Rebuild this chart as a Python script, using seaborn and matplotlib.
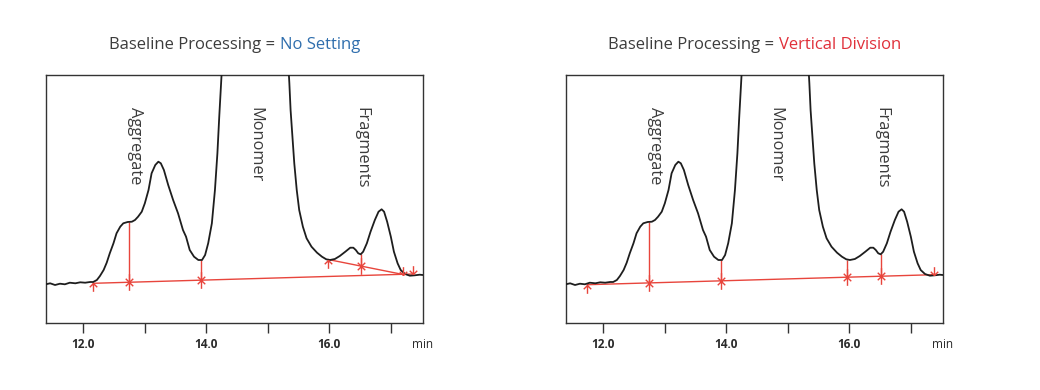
import numpy as np
import pandas as pd
import matplotlib
matplotlib.use("Agg")
import matplotlib.pyplot as plt
import seaborn as sns
from matplotlib.path import Path

# ---------------- data ----------------
time_min = [11.39, 11.46, 11.54, 11.62, 11.70, 11.78, 11.87, 11.95, 12.03, 12.11,
            12.16, 12.22, 12.27, 12.33, 12.38, 12.43, 12.49, 12.54, 12.60, 12.65,
            12.72, 12.79, 12.84, 12.89, 12.95, 13.00, 13.06, 13.11, 13.17, 13.22,
            13.26, 13.31, 13.38, 13.46, 13.54, 13.62, 13.67, 13.73, 13.80, 13.87,
            13.93, 13.98, 14.03, 14.09, 14.14, 14.18, 14.21, 14.24, 14.27, 14.80,
            15.32, 15.35, 15.37, 15.40, 15.43, 15.47, 15.51, 15.57, 15.63, 15.71,
            15.80, 15.88, 15.95, 16.01, 16.09, 16.17, 16.26, 16.34, 16.39, 16.43,
            16.47, 16.51, 16.55, 16.61, 16.67, 16.74, 16.80, 16.85, 16.89, 16.94,
            17.00, 17.05, 17.11, 17.16, 17.23, 17.31, 17.39, 17.47, 17.52]
signal = [38.7, 39.7, 38.0, 39.3, 38.7, 40.3, 39.7, 40.7, 40.3, 41.0,
          41.0, 43.0, 47.0, 53.0, 60.3, 69.7, 79.7, 89.7, 96.3, 99.7,
          101.0, 101.3, 103.0, 106.3, 111.3, 119.7, 133.0, 149.7, 158.0, 161.3,
          159.7, 153.0, 138.0, 123.0, 109.7, 93.0, 86.3, 73.0, 66.3, 63.0,
          63.0, 68.0, 79.7, 99.7, 133.0, 169.7, 206.3, 239.7, 273.0, 900.0,
          273.0, 239.7, 213.0, 186.3, 159.7, 133.0, 113.0, 96.3, 84.7, 76.3,
          70.3, 66.3, 63.7, 63.0, 64.0, 67.0, 71.3, 75.3, 75.3, 73.0,
          69.7, 68.7, 71.3, 79.7, 91.3, 103.0, 111.3, 113.7, 111.3, 101.3,
          86.3, 71.3, 59.7, 53.0, 49.0, 47.3, 47.7, 48.3, 48.0]

peak_names = ["Aggregate", "Monomer", "Fragments"]
peak_label_time = [12.84, 14.80, 16.52]

tick_positions = [12, 13, 14, 15, 16, 17]
tick_labels = ["12.0", "", "14.0", "", "16.0", ""]
axis_unit = "min"

title_prefix = "Baseline Processing = "
panel_modes = ["No Setting", "Vertical Division"]

# Panel 1: No Setting
p1_base_t = [12.16, 17.36]
p1_base_s = [39.7, 49.0]
p1_skim_t = [15.98, 17.20]
p1_skim_s = [63.5, 48.5]
p1_drop_t = [12.75, 13.91, 16.51]
p1_drop_bottom = [40.8, 42.6, 57.0]
p1_drop_top = [101.2, 63.0, 68.7]
p1_mark_t = [12.16, 12.75, 13.91, 15.98, 16.51, 17.20, 17.36]
p1_mark_s = [39.7, 40.8, 42.6, 63.5, 57.0, 48.5, 49.0]
p1_mark_kind = ["start", "mid", "mid", "start", "mid", "end", "end"]

# Panel 2: Vertical Division
p2_base_t = [11.74, 17.37]
p2_base_s = [38.3, 48.3]
p2_drop_t = [12.75, 13.91, 15.96, 16.51]
p2_drop_bottom = [40.1, 42.2, 45.8, 46.8]
p2_drop_top = [101.2, 63.0, 63.5, 68.7]
p2_mark_t = [11.74, 12.75, 13.91, 15.96, 16.51, 17.37]
p2_mark_s = [38.3, 40.1, 42.2, 45.8, 46.8, 48.3]
p2_mark_kind = ["start", "mid", "mid", "mid", "mid", "end"]

# ---------------- style ----------------
sns.set_theme(style="white")
plt.rcParams["font.family"] = ["Open Sans", "DejaVu Sans"]

RED = "#e8453c"
BLUE = "#2f6ead"
TITLE_RED = "#e0303a"
GRAY = "#3c3c3c"
CURVE = "#1e1e1e"

d = 0.45
M_FULL = Path([(0, -1), (0, 1), (-d, -d), (d, d), (-d, d), (d, -d)],
              [Path.MOVETO, Path.LINETO, Path.MOVETO, Path.LINETO, Path.MOVETO, Path.LINETO])
M_START = Path([(0, 0), (0, -1), (0, 0), (-d, -d), (0, 0), (d, -d), (0, 1e-3), (0, 1)],
               [Path.MOVETO, Path.LINETO, Path.MOVETO, Path.LINETO, Path.MOVETO, Path.LINETO,
                Path.MOVETO, Path.MOVETO])
M_END = Path([(0, 0), (0, 1), (0, 0), (-d, d), (0, 0), (d, d), (0, -1e-3), (0, -1)],
             [Path.MOVETO, Path.LINETO, Path.MOVETO, Path.LINETO, Path.MOVETO, Path.LINETO,
              Path.MOVETO, Path.MOVETO])
MARKERS = {"start": M_START, "mid": M_FULL, "end": M_END}

curve_df = pd.DataFrame({"time": time_min, "signal": signal})

W, H = 1040, 390
fig = plt.figure(figsize=(W / 100, H / 100), dpi=100)
ax_w, ax_h = 377, 248
ax_bottom = H - 323
lefts = [46, 566]
axes = [fig.add_axes([l / W, ax_bottom / H, ax_w / W, ax_h / H]) for l in lefts]

XLIM = (11.393, 17.523)
YLIM = (0, 248)

panels = [
    dict(base_t=p1_base_t, base_s=p1_base_s, skim_t=p1_skim_t, skim_s=p1_skim_s,
         drop_t=p1_drop_t, drop_b=p1_drop_bottom, drop_top=p1_drop_top,
         mark_t=p1_mark_t, mark_s=p1_mark_s, mark_k=p1_mark_kind, color=BLUE),
    dict(base_t=p2_base_t, base_s=p2_base_s, skim_t=None, skim_s=None,
         drop_t=p2_drop_t, drop_b=p2_drop_bottom, drop_top=p2_drop_top,
         mark_t=p2_mark_t, mark_s=p2_mark_s, mark_k=p2_mark_kind, color=TITLE_RED),
]

renderer = fig.canvas.get_renderer()

for ax, pan, mode in zip(axes, panels, panel_modes):
    sns.lineplot(data=curve_df, x="time", y="signal", ax=ax, color=CURVE,
                 linewidth=1.3, estimator=None, sort=False, zorder=3)
    ax.plot(pan["base_t"], pan["base_s"], color=RED, lw=1.0, zorder=2)
    if pan["skim_t"] is not None:
        ax.plot(pan["skim_t"], pan["skim_s"], color=RED, lw=1.0, zorder=2)
    ax.vlines(pan["drop_t"], pan["drop_b"], pan["drop_top"], color=RED, lw=1.0, zorder=2)
    for t, s, k in zip(pan["mark_t"], pan["mark_s"], pan["mark_k"]):
        ax.plot([t], [s], linestyle="none", marker=MARKERS[k], markersize=12,
                markeredgecolor=RED, markerfacecolor="none", markeredgewidth=1.0, zorder=4)

    ax.set_xlim(*XLIM)
    ax.set_ylim(*YLIM)
    ax.set_xlabel("")
    ax.set_ylabel("")
    ax.set_yticks([])
    ax.set_xticks(tick_positions)
    ax.set_xticklabels(tick_labels, fontsize=8.5, fontweight="bold", color="#2a2a2a")
    ax.tick_params(axis="x", bottom=True, direction="out", length=7, width=1.0,
                   color="#333333", pad=4)
    for sp in ax.spines.values():
        sp.set_visible(True)
        sp.set_color("#333333")
        sp.set_linewidth(1.0)

    ax.text(XLIM[1], -21 / ax_h, axis_unit, transform=ax.get_xaxis_transform(),
            ha="center", va="center", fontsize=8.5, color="#2a2a2a")

    for name, t in zip(peak_names, peak_label_time):
        ax.text(t, 216, name, rotation=270, ha="center", va="top",
                fontsize=11.8, color=GRAY, zorder=5)

    # two-colour title
    ty = 1 + 30 / ax_h
    t1 = ax.text(0, ty, title_prefix, transform=ax.transAxes, ha="left", va="center",
                 fontsize=12, color=GRAY)
    t2 = ax.text(0, ty, mode, transform=ax.transAxes, ha="left", va="center",
                 fontsize=12, color=pan["color"])
    w1 = t1.get_window_extent(renderer).width
    w2 = t2.get_window_extent(renderer).width
    x0 = 0.5 - (w1 + w2) / 2 / ax_w
    t1.set_x(x0)
    t2.set_x(x0 + w1 / ax_w)

fig.savefig("out.png", dpi=100, facecolor="white")
